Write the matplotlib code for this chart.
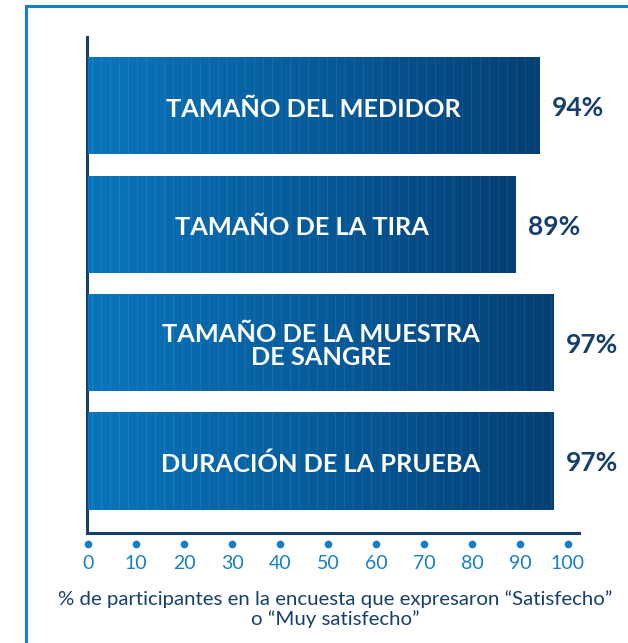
import numpy as np
import matplotlib
matplotlib.use("Agg")
import matplotlib.pyplot as plt
from matplotlib.colors import LinearSegmentedColormap
from matplotlib.lines import Line2D

# ── Data ──────────────────────────────────────────────────────────────────────

categories = ["TAMAÑO DEL MEDIDOR", "TAMAÑO DE LA TIRA",
              "TAMAÑO DE LA MUESTRA\nDE SANGRE", "DURACIÓN DE LA PRUEBA"]
values = [94, 89, 97, 97]
value_labels = ["94%", "89%", "97%", "97%"]
ticks = [0, 10, 20, 30, 40, 50, 60, 70, 80, 90, 100]
xlabel = "% de participantes en la encuesta que expresaron “Satisfecho”\no “Muy satisfecho”"

# ── Style ─────────────────────────────────────────────────────────────────────

NAVY = "#163f6d"
LIGHT = "#1680c6"
FONT = "Lato"
bar_cmap = LinearSegmentedColormap.from_list("bar", ["#0a75bb", "#075b9a", "#053f74"])

W, H = 628, 643
fig = plt.figure(figsize=(W / 100, H / 100), dpi=100)
ax = fig.add_axes([86.6 / W, (H - 533) / H, (579 - 86.6) / W, (533 - 37) / H])
px_per_unit = (579 - 86.6) / 102.6

bar_h = 0.82
ypos = np.arange(len(values))
bars = ax.barh(ypos, values, height=bar_h, color="#075b9a", linewidth=0, zorder=2)
for i, (b, v) in enumerate(zip(bars, values)):
    # one image column per screen pixel: gradient plus faint light stripes
    ncol = int(round(v * px_per_unit))
    rgba = bar_cmap(np.linspace(0, 1, ncol))
    stripe = (np.arange(ncol) % 9 == 4)
    rgba[stripe, :3] = np.clip(rgba[stripe, :3] + 0.05, 0, 1)
    im = ax.imshow(rgba[np.newaxis, :, :], extent=[0, v, i + bar_h / 2, i - bar_h / 2],
                   aspect="auto", interpolation="nearest", zorder=3)
    im.set_clip_path(b)
    ax.text(v / 2, i + 0.03, categories[i], ha="center", va="center", color="white",
            fontsize=18.3, fontweight="bold", family=FONT, linespacing=1.0, zorder=4)
    ax.text(v + 2.6, i + 0.02, value_labels[i], ha="left", va="center", color=NAVY,
            fontsize=19, fontweight="bold", family=FONT, zorder=4)

ax.set_xlim(-0.3, 102.3)
ax.set_ylim(3.608, -0.582)

for s in ["top", "right"]:
    ax.spines[s].set_visible(False)
ax.spines["left"].set_color(NAVY)
ax.spines["left"].set_linewidth(2.2)
ax.spines["bottom"].set_color(NAVY)
ax.spines["bottom"].set_linewidth(2.2)

ax.set_yticks([])
ax.set_xticks(ticks)
ax.set_xticklabels([str(t) for t in ticks], color=LIGHT, fontsize=14, family=FONT)
ax.tick_params(axis="x", length=0, pad=16)

# dot markers under the axis instead of tick marks
ax.plot(ticks, [-0.022] * len(ticks), "o", color=LIGHT, markersize=4.5,
        transform=ax.get_xaxis_transform(), clip_on=False)

fig.text(335 / W, 1 - 609 / H, xlabel, ha="center", va="center", color=NAVY,
         fontsize=14.7, family=FONT, linespacing=1.2)

# outer frame (left and top edges visible)
fig.add_artist(Line2D([26 / W, 26 / W], [0, 1 - 6 / H], color=LIGHT, lw=2.2,
                      transform=fig.transFigure))
fig.add_artist(Line2D([26 / W, 1], [1 - 6 / H, 1 - 6 / H], color=LIGHT, lw=2.2,
                      transform=fig.transFigure))

fig.savefig("out.png", dpi=100)
